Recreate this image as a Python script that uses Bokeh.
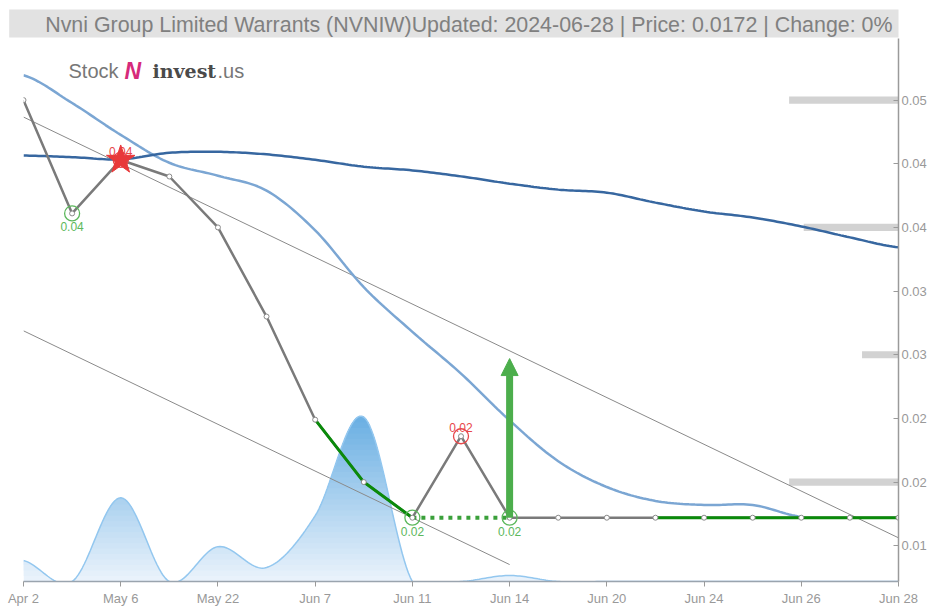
import numpy as np
from bokeh.plotting import figure
from bokeh.models import Range1d, FixedTicker, Arrow, NormalHead, Label
from bokeh.core.properties import value
from bokeh.embed import file_html
from bokeh.resources import INLINE

# ---------------- data ----------------
tick_index = [0, 2, 4, 6, 8, 10, 12, 14, 16, 18]
tick_labels = ["Apr 2", "May 6", "May 22", "Jun 7", "Jun 11", "Jun 14",
               "Jun 20", "Jun 24", "Jun 26", "Jun 28"]

price = [0.0500, 0.0411, 0.0453, 0.0440, 0.0400, 0.0330, 0.0249, 0.0200,
         0.0172, 0.0236, 0.0172, 0.0172, 0.0172, 0.0172, 0.0172, 0.0172,
         0.0172, 0.0172, 0.0172]

ma_short = [0.05195, 0.04977, 0.04727, 0.04508, 0.04406, 0.04289, 0.03977,
            0.03531, 0.03180, 0.02852, 0.02484, 0.02164, 0.01961, 0.01852,
            0.01820, 0.01820, 0.01727]

ma_long = [0.04565, 0.04552, 0.04535, 0.04586, 0.04594, 0.04574, 0.04531,
           0.04477, 0.04448, 0.04401, 0.04344, 0.04297, 0.04273, 0.04195,
           0.04125, 0.04078, 0.04008, 0.03922, 0.03844]

volume = [2100, 0, 8400, 0, 3500, 1400, 6600, 16500, 0, 0, 600, 0, 0, 0,
          0, 0, 0, 0, 0]

trend_upper_idx = [0, 18]
trend_upper_val = [0.04867, 0.01562]
trend_lower_idx = [0, 10]
trend_lower_val = [0.03188, 0.01352]

level_price = [0.050, 0.040, 0.030, 0.020]
level_len = [2.25, 1.95, 0.75, 2.25]

buy_idx = [1, 8, 10]
buy_text = ["0.04", "0.02", "0.02"]
sell_idx = [2, 9]
sell_text = ["0.04", "0.02"]
star_idx = 2

green_runs = [(6, 8), (13, 18)]
dotted_run = (8, 10)
arrow_idx = 10
arrow_target = 0.0297

y_ticks = [0.015, 0.02, 0.025, 0.03, 0.035, 0.04, 0.045, 0.05]
y_tick_labels = ["0.01", "0.02", "0.02", "0.03", "0.03", "0.04", "0.04", "0.05"]

title_text = ("Nvni Group Limited Warrants (NVNIW)Updated: 2024-06-28 | "
              "Price: 0.0172 | Change: 0%")

# ---------------- helpers ----------------
def cardinal(ys, n=16):
    ys = list(ys)
    m = len(ys)
    X, Y = [], []
    for i in range(m - 1):
        p0 = ys[i - 1] if i > 0 else ys[i]
        p1, p2 = ys[i], ys[i + 1]
        p3 = ys[i + 2] if i + 2 < m else ys[i + 1]
        m1 = (p2 - p0) / 2.0
        m2 = (p3 - p1) / 2.0
        for t in np.linspace(0, 1, n, endpoint=False):
            h00 = 2 * t**3 - 3 * t**2 + 1
            h10 = t**3 - 2 * t**2 + t
            h01 = -2 * t**3 + 3 * t**2
            h11 = t**3 - t**2
            X.append(i + t)
            Y.append(h00 * p1 + h10 * m1 + h01 * p2 + h11 * m2)
    X.append(m - 1)
    Y.append(ys[-1])
    return np.array(X), np.array(Y)

def mix(c1, c2, f):
    a = [int(c1[i:i + 2], 16) for i in (1, 3, 5)]
    b = [int(c2[i:i + 2], 16) for i in (1, 3, 5)]
    return "#%02x%02x%02x" % tuple(round(a[k] + (b[k] - a[k]) * f) for k in range(3))

# ---------------- figure ----------------
FONT = "Liberation Sans"
n = len(price)
idx = list(range(n))
FH = 545  # frame height in px (608 - 38 - 25)

p = figure(width=930, height=608, x_range=Range1d(0, n - 1),
           y_range=Range1d(0.01219, 0.05484), y_axis_location="right",
           output_backend="svg", toolbar_location=None,
           min_border_left=23, min_border_right=32, min_border_top=38,
           min_border_bottom=25)
p.extra_y_ranges = {"vol": Range1d(0, 54500)}
p.grid.visible = False
p.outline_line_color = None
p.background_fill_color = "white"

# title
p.title.text = title_text
p.title.align = "right"
p.title.text_font = FONT
p.title.text_font_size = "21.4px"
p.title.text_font_style = "normal"
p.title.text_color = "#808080"
p.title.background_fill_color = "#e2e2e2"
p.title.padding = dict(left=36, right=6, top=3, bottom=1)
p.title.standoff = 2

# axes
xa = p.xaxis[0]
xa.ticker = FixedTicker(ticks=tick_index)
xa.major_label_overrides = {i: s for i, s in zip(tick_index, tick_labels)}
xa.axis_line_color = "#9aa4ae"
xa.axis_line_width = 1.5
xa.major_tick_line_color = "#9a9a9a"
xa.major_tick_in = 0
xa.major_tick_out = 5
xa.minor_tick_line_color = None
xa.major_label_text_font = FONT
xa.major_label_text_font_size = "13px"
xa.major_label_text_color = "#999999"
xa.major_label_standoff = 4

ya = p.yaxis[0]
ya.ticker = FixedTicker(ticks=y_ticks)
ya.major_label_overrides = {t: s for t, s in zip(y_ticks, y_tick_labels)}
ya.axis_line_color = "#9a9a9a"
ya.axis_line_width = 1.5
ya.major_tick_line_color = "#9a9a9a"
ya.major_tick_in = 5
ya.major_tick_out = 0
ya.minor_tick_line_color = None
ya.major_label_text_font = FONT
ya.major_label_text_font_size = "13px"
ya.major_label_text_color = "#999999"
ya.major_label_standoff = 3

# volume area with vertical gradient (overlapping bands, no seams)
vx, vy = cardinal(volume, 24)
vmax = max(volume)
bands = 30
for k in range(bands):
    lo = vmax * k / bands
    y1 = np.minimum(vy, lo)
    col = mix("#e9f2fb", "#6cb0e3", k / (bands - 1))
    p.varea(x=vx, y1=y1, y2=vy, fill_color=col, y_range_name="vol")
p.line(vx, vy, line_color="#93c7ef", line_width=1.5, y_range_name="vol")

# support / resistance bars
p.hbar(y=level_price, left=[n - 1 - L for L in level_len], right=n - 1,
       height=0.00056, fill_color="#d2d2d2", line_color=None)

# trend lines
p.line(trend_upper_idx, trend_upper_val, line_color="#8a8a8a", line_width=1)
p.line(trend_lower_idx, trend_lower_val, line_color="#8a8a8a", line_width=1)

# moving averages
sx, sy = cardinal(ma_short, 16)
p.line(sx, sy, line_color="#7ba6d3", line_width=2.5)
lx, ly = cardinal(ma_long, 16)
p.line(lx, ly, line_color="#3767a0", line_width=2.5)

# price line
p.line(idx, price, line_color="#7a7a7a", line_width=2.5)
for a, b in green_runs:
    p.line(idx[a:b + 1], price[a:b + 1], line_color="#0a8a0a", line_width=3)
a, b = dotted_run
p.line([a, b], [price[a], price[a]], line_color="#3aa03a", line_width=4,
       line_dash="4 5")

# arrow
p.add_layout(Arrow(end=NormalHead(size=17, fill_color="#4cae4c", line_color="#4cae4c"),
                   x_start=arrow_idx, y_start=price[arrow_idx],
                   x_end=arrow_idx, y_end=arrow_target,
                   line_color="#4cae4c", line_width=7))

# points
p.scatter(idx, price, size=5, fill_color="white", line_color="#8a8a8a",
          line_width=1)

# buy / sell markers and labels
p.scatter(buy_idx, [price[i] for i in buy_idx], size=15, fill_color=None,
          line_color="#5cb85c", line_width=1.3)
p.text(buy_idx, [price[i] for i in buy_idx], text=buy_text, y_offset=9,
       text_align="center", text_baseline="top", text_color="#5cb85c",
       text_font=value(FONT), text_font_size="12px")
p.scatter(sell_idx, [price[i] for i in sell_idx], size=15, fill_color=None,
          line_color="#e8474a", line_width=1.3)
p.text(sell_idx, [price[i] for i in sell_idx], text=sell_text, y_offset=-4,
       text_align="center", text_baseline="bottom", text_color="#e8474a",
       text_font=value(FONT), text_font_size="12px")
p.scatter([star_idx], [price[star_idx]], marker="star", size=30,
          fill_color="#e8393a", line_color="#e8393a")

# logo
LY = FH - 34
p.add_layout(Label(x=45, y=LY, x_units="screen", y_units="screen",
                   text="Stock", text_font=FONT, text_font_size="20px",
                   text_color="#777777", text_baseline="alphabetic"))
p.add_layout(Label(x=101, y=LY, x_units="screen", y_units="screen",
                   text="N", text_font=FONT, text_font_size="23px",
                   text_font_style="bold italic", text_color="#d62a7a",
                   text_baseline="alphabetic"))
p.add_layout(Label(x=129, y=LY, x_units="screen", y_units="screen",
                   text="invest", text_font="DejaVu Serif", text_font_size="19px",
                   text_font_style="bold", text_color="#4a4a4a",
                   text_baseline="alphabetic"))
p.add_layout(Label(x=194, y=LY, x_units="screen", y_units="screen",
                   text=".us", text_font=FONT, text_font_size="20px",
                   text_color="#777777", text_baseline="alphabetic"))

open("out.html", "w").write(file_html(p, INLINE))
